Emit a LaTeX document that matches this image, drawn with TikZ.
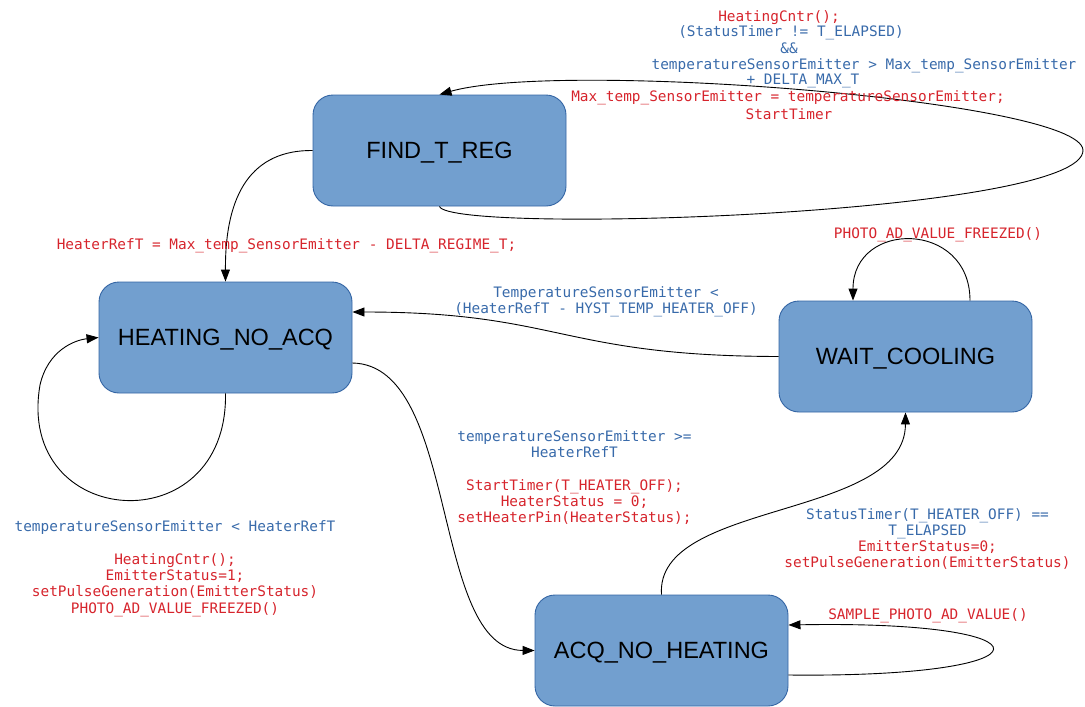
\documentclass[tikz,border=0pt]{standalone}
\usepackage{fontspec}
\setmainfont{Liberation Sans}
\newfontfamily\lblfam{DejaVu Sans Mono}
\usetikzlibrary{arrows.meta,calc}
\definecolor{statefill}{RGB}{114,159,207}
\definecolor{stateborder}{RGB}{52,101,164}
\definecolor{lred}{RGB}{214,36,44}
\definecolor{lblue}{RGB}{56,106,170}
\newcommand\lblfont{\lblfam\fontsize{14.4}{16.3}\selectfont}
\newcommand\statefont{\fontsize{23.5}{28}\selectfont}
\newcommand\R[1]{\textcolor{lred}{#1}}
\newcommand\B[1]{\textcolor{lblue}{#1}}
\tikzset{
  state/.style={draw=stateborder, line width=0.9pt, fill=statefill, rounded corners=20pt,
    minimum width=253pt, minimum height=111pt, font=\statefont, inner sep=0pt, text depth=0pt},
  lbl/.style={font=\lblfont, align=center, inner sep=0pt},
  conn/.style={draw=black, line width=0.9pt, -{Triangle[length=12pt,width=9pt]}},
}
\begin{document}
\begin{tikzpicture}[x=1pt,y=-1pt]
\useasboundingbox (0,0) rectangle (1085,707);
% states
\node[state] (find) at (439.5,150.5) {FIND\_T\_REG};
\node[state] (heat) at (225.5,337.5) {HEATING\_NO\_ACQ};
\node[state] (wait) at (905.5,356.5) {WAIT\_COOLING};
\node[state] (acq) at (661.5,650.5) {ACQ\_NO\_HEATING};
% connectors
\draw[conn] (find.west) .. controls (253,150) and (225,192) .. (heat.north);
\draw[conn] (find.south) .. controls (450,235) and (1085,215) .. (1083,150)
   .. controls (1080,100) and (560,60) .. (find.north);
\draw[conn] (heat.south) .. controls (228,545) and (15,530) .. (40,385)
   .. controls (48,350) and (75,340) .. (heat.west);
\draw[conn] ([yshift=-25.5pt]heat.east) .. controls (460,365) and (430,650) .. (acq.west);
\draw[conn] (wait.west) .. controls (560,356) and (560,312) .. ([yshift=25.5pt]heat.east);
\draw[conn] (acq.north) .. controls (655,500) and (905,520) .. (wait.south);
\draw[conn] ([xshift=64.5pt]wait.north) .. controls (970,220) and (853,220) .. ([xshift=-52.5pt]wait.north);
\draw[conn] ([yshift=-24.5pt]acq.east) .. controls (1060,678) and (1060,620) .. ([yshift=25.5pt]acq.east);
% labels
\node[lbl] (t1) at (779,18) {\R{HeatingCntr();}};
\node[lbl] (t2) at (791,33) {\B{(StatusTimer != T\_ELAPSED)}};
\node[lbl] (t3) at (789,48) {\B{\&\&}};
\node[lbl] (t4) at (864,66) {\B{temperatureSensorEmitter > Max\_temp\_SensorEmitter}};
\node[lbl] (t5) at (803,81) {\B{+ DELTA\_MAX\_T}};
\node[lbl] (t6) at (788,98) {\R{Max\_temp\_SensorEmitter = temperatureSensorEmitter;}};
\node[lbl] (t7) at (789,114) {\R{StartTimer}};
\node[lbl] (l1) at (286.5,246) {\R{HeaterRefT = Max\_temp\_SensorEmitter - DELTA\_REGIME\_T;}};
\node[lbl] (l2) at (938,235) {\R{PHOTO\_AD\_VALUE\_FREEZED()}};
\node[lbl] (l3) at (606,302) {\B{TemperatureSensorEmitter <}\\\B{(HeaterRefT - HYST\_TEMP\_HEATER\_OFF)}};
\node[lbl] (l4) at (574.5,477.5) {\B{temperatureSensorEmitter >=}\\\B{HeaterRefT}\\[16.3pt]
  \R{StartTimer(T\_HEATER\_OFF);}\\\R{HeaterStatus = 0;}\\\R{setHeaterPin(HeaterStatus);}};
\node[lbl] (l5) at (175,568.5) {\B{temperatureSensorEmitter < HeaterRefT}\\[16.3pt]
  \R{HeatingCntr();}\\\R{EmitterStatus=1;}\\\R{setPulseGeneration(EmitterStatus)}\\\R{PHOTO\_AD\_VALUE\_FREEZED()}};
\node[lbl] (l6) at (927.5,539) {\B{StatusTimer(T\_HEATER\_OFF) ==}\\\B{T\_ELAPSED}\\
  \R{EmitterStatus=0;}\\\R{setPulseGeneration(EmitterStatus)}};
\node[lbl] (l7) at (928,616) {\R{SAMPLE\_PHOTO\_AD\_VALUE()}};
\end{tikzpicture}
\end{document}
